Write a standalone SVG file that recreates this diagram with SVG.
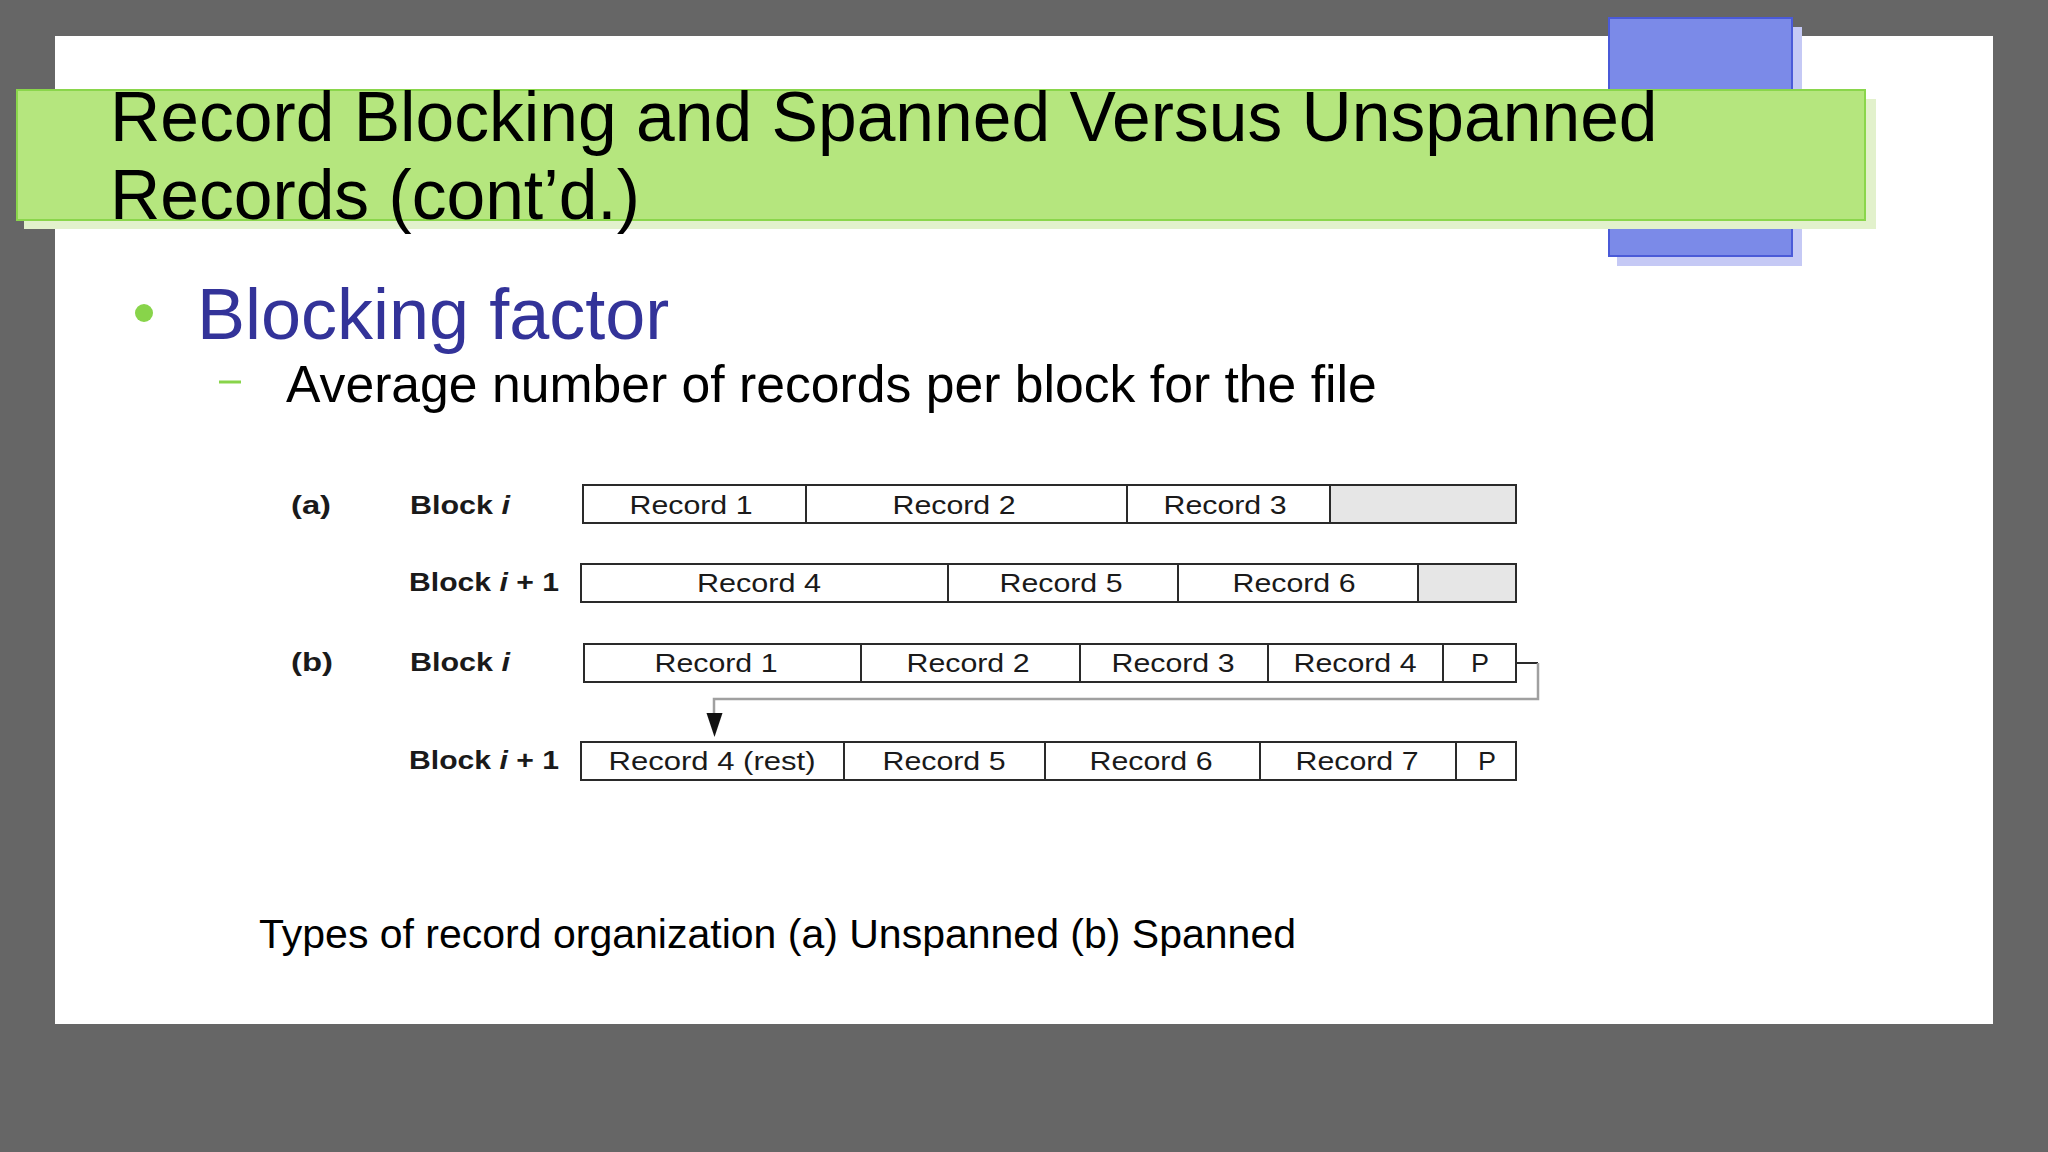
<svg xmlns="http://www.w3.org/2000/svg" width="2048" height="1152" viewBox="0 0 2048 1152">
<style>
.lbl{font-family:"Liberation Sans",Arial,sans-serif;font-size:26px;font-weight:bold;fill:#1a1a1a}
.rec{font-family:"Liberation Sans",Arial,sans-serif;font-size:26px;fill:#1a1a1a;text-anchor:middle}
.cell{fill:#ffffff;stroke:#2a2a2a;stroke-width:2}
.empty{fill:#e6e6e6;stroke:#2a2a2a;stroke-width:2}
.div{stroke:#2a2a2a;stroke-width:2}
</style>
<rect x="0" y="0" width="2048" height="1152" fill="#666666"/>
<rect x="55" y="36" width="1938" height="988" fill="#ffffff"/>
<g id="blue-deco">
<rect x="1617" y="27" width="185" height="239" fill="#c5c9f5"/>
<rect x="1609" y="18" width="183" height="238" fill="#7b8ae8" stroke="#4a5ad8" stroke-width="2"/>
</g>
<g id="title-bar">
<rect x="24" y="99" width="1852" height="130" fill="#e2f1cc"/>
<rect x="17" y="90" width="1848" height="130" fill="#b5e67e" stroke="#8ad64b" stroke-width="2"/>
<text x="110" y="141" font-family="'Liberation Sans',Arial,sans-serif" font-size="69.6" fill="#000000">Record Blocking and Spanned Versus Unspanned</text>
<text x="110" y="219" font-family="'Liberation Sans',Arial,sans-serif" font-size="69.6" fill="#000000">Records (cont’d.)</text>
</g>
<g id="bullets">
<circle cx="144" cy="313" r="9" fill="#88d44a"/>
<text x="197" y="339" font-family="'Liberation Sans',Arial,sans-serif" font-size="72" fill="#333399">Blocking factor</text>
<line x1="219" y1="382" x2="241" y2="382" stroke="#88d44a" stroke-width="3"/>
<text x="286" y="402" font-family="'Liberation Sans',Arial,sans-serif" font-size="51.7" fill="#000000">Average number of records per block for the file</text>
</g>
<g id="labels">
<text class="lbl" x="291" y="514" textLength="40" lengthAdjust="spacingAndGlyphs">(a)</text>
<text class="lbl" x="410" y="514" textLength="100" lengthAdjust="spacingAndGlyphs">Block <tspan font-style="italic">i</tspan></text>
<text class="lbl" x="409" y="591" textLength="150" lengthAdjust="spacingAndGlyphs">Block <tspan font-style="italic">i</tspan> + 1</text>
<text class="lbl" x="291" y="671" textLength="42" lengthAdjust="spacingAndGlyphs">(b)</text>
<text class="lbl" x="410" y="671" textLength="100" lengthAdjust="spacingAndGlyphs">Block <tspan font-style="italic">i</tspan></text>
<text class="lbl" x="409" y="769" textLength="150" lengthAdjust="spacingAndGlyphs">Block <tspan font-style="italic">i</tspan> + 1</text>
</g>
<g id="block-a-i">
<rect class="cell" x="583" y="485" width="933" height="38"/>
<rect class="empty" x="1330" y="485" width="186" height="38"/>
<line class="div" x1="806" y1="485" x2="806" y2="523"/>
<line class="div" x1="1127" y1="485" x2="1127" y2="523"/>
<text class="rec" x="691" y="514" textLength="123" lengthAdjust="spacingAndGlyphs">Record 1</text>
<text class="rec" x="954" y="514" textLength="123" lengthAdjust="spacingAndGlyphs">Record 2</text>
<text class="rec" x="1225" y="514" textLength="123" lengthAdjust="spacingAndGlyphs">Record 3</text>
</g>
<g id="block-a-i1">
<rect class="cell" x="581" y="564" width="935" height="38"/>
<rect class="empty" x="1418" y="564" width="98" height="38"/>
<line class="div" x1="948" y1="564" x2="948" y2="602"/>
<line class="div" x1="1178" y1="564" x2="1178" y2="602"/>
<text class="rec" x="759" y="592" textLength="124" lengthAdjust="spacingAndGlyphs">Record 4</text>
<text class="rec" x="1061" y="592" textLength="123" lengthAdjust="spacingAndGlyphs">Record 5</text>
<text class="rec" x="1294" y="592" textLength="123" lengthAdjust="spacingAndGlyphs">Record 6</text>
</g>
<g id="block-b-i">
<rect class="cell" x="584" y="644" width="932" height="38"/>
<line class="div" x1="861" y1="644" x2="861" y2="682"/>
<line class="div" x1="1080" y1="644" x2="1080" y2="682"/>
<line class="div" x1="1268" y1="644" x2="1268" y2="682"/>
<line class="div" x1="1443" y1="644" x2="1443" y2="682"/>
<text class="rec" x="716" y="672" textLength="123" lengthAdjust="spacingAndGlyphs">Record 1</text>
<text class="rec" x="968" y="672" textLength="123" lengthAdjust="spacingAndGlyphs">Record 2</text>
<text class="rec" x="1173" y="672" textLength="123" lengthAdjust="spacingAndGlyphs">Record 3</text>
<text class="rec" x="1355" y="672" textLength="123" lengthAdjust="spacingAndGlyphs">Record 4</text>
<text class="rec" x="1480" y="672" textLength="18" lengthAdjust="spacingAndGlyphs">P</text>
</g>
<g id="block-b-i1">
<rect class="cell" x="581" y="742" width="935" height="38"/>
<line class="div" x1="844" y1="742" x2="844" y2="780"/>
<line class="div" x1="1045" y1="742" x2="1045" y2="780"/>
<line class="div" x1="1260" y1="742" x2="1260" y2="780"/>
<line class="div" x1="1456" y1="742" x2="1456" y2="780"/>
<text class="rec" x="712" y="770" textLength="207" lengthAdjust="spacingAndGlyphs">Record 4 (rest)</text>
<text class="rec" x="944" y="770" textLength="123" lengthAdjust="spacingAndGlyphs">Record 5</text>
<text class="rec" x="1151" y="770" textLength="123" lengthAdjust="spacingAndGlyphs">Record 6</text>
<text class="rec" x="1357" y="770" textLength="123" lengthAdjust="spacingAndGlyphs">Record 7</text>
<text class="rec" x="1487" y="770" textLength="18" lengthAdjust="spacingAndGlyphs">P</text>
</g>
<g id="connectors">
<line x1="1516" y1="663" x2="1538" y2="663" stroke="#2a2a2a" stroke-width="2"/>
<polyline points="1538,663 1538,699 714,699 714,714" fill="none" stroke="#a0a0a0" stroke-width="2.5"/>
<polygon points="706.5,713 722.5,713 714.5,737" fill="#111111"/>
</g>
<text x="259" y="948" font-family="'Liberation Sans',Arial,sans-serif" font-size="41" fill="#000000">Types of record organization (a) Unspanned (b) Spanned</text>
</svg>
